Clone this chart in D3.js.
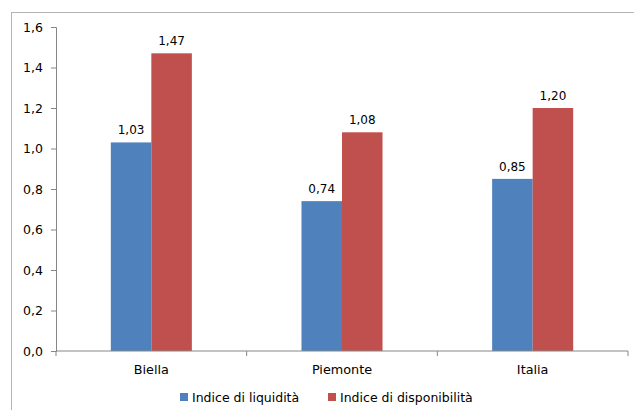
<!DOCTYPE html>
<html>
<head>
<meta charset="utf-8">
<script src="https://cdn.jsdelivr.net/npm/d3@7"></script>
<style>
  body { margin: 0; background: #fff; }
  text { font-family: "DejaVu Sans", Verdana, sans-serif; fill: #000; }
</style>
</head>
<body>
<svg class="chart"></svg>
<script>
var categories = ["Biella", "Piemonte", "Italia"];
var seriesNames = ["Indice di liquidità", "Indice di disponibilità"];
var liquidita = [1.03, 0.74, 0.85];
var disponibilita = [1.47, 1.08, 1.20];
var yTicks = [0, 0.2, 0.4, 0.6, 0.8, 1.0, 1.2, 1.4, 1.6];
var colors = ["#4F81BD", "#C0504D"];

var width = 634, height = 410;
var margin = {top: 27, left: 56, right: 6, bottom: 59};

var svg = d3.select(".chart").attr("width", width).attr("height", height);

// outer frame
svg.append("rect")
    .attr("x", 11.5).attr("y", 12.5)
    .attr("width", width + 10).attr("height", height + 10)
    .attr("fill", "none").attr("stroke", "#b3b3b3");

var x0 = d3.scaleBand().domain(categories).range([margin.left, width - margin.right]);
var x1 = d3.scaleBand().domain(seriesNames).range([0, x0.bandwidth() * 0.425]);
var y = d3.scaleLinear().domain([0, 1.6]).range([height - margin.bottom, margin.top]);

var fmt = function(v) { return d3.format(".2f")(v).replace(".", ","); };

var rows = categories.map(function(c, i) {
    return {cat: c, values: [liquidita[i], disponibilita[i]]};
});

var groups = svg.selectAll(".grp").data(rows).enter().append("g")
    .attr("class", "grp")
    .attr("transform", function(d) {
        return "translate(" + (x0(d.cat) + (x0.bandwidth() - x1.range()[1]) / 2) + ",0)";
    });

groups.selectAll("rect").data(function(d) {
        return d.values.map(function(v, j) { return {name: seriesNames[j], v: v, j: j}; });
    }).enter().append("rect")
    .attr("x", function(d) { return x1(d.name); })
    .attr("width", x1.bandwidth())
    .attr("y", function(d) { return y(d.v); })
    .attr("height", function(d) { return y(0) - y(d.v); })
    .attr("fill", function(d) { return colors[d.j]; });

groups.selectAll(".val").data(function(d) {
        return d.values.map(function(v, j) { return {name: seriesNames[j], v: v}; });
    }).enter().append("text")
    .attr("class", "val")
    .attr("x", function(d) { return x1(d.name) + x1.bandwidth() / 2; })
    .attr("y", function(d) { return y(d.v) - 8; })
    .attr("text-anchor", "middle")
    .style("font-size", "12px")
    .text(function(d) { return fmt(d.v); });

// y axis
var yAxis = svg.append("g")
    .attr("transform", "translate(" + margin.left + ",0)")
    .call(d3.axisLeft(y).tickValues(yTicks).tickSize(5).tickPadding(8)
        .tickFormat(function(d) { return d3.format(".1f")(d).replace(".", ","); }));
yAxis.selectAll("text").style("font-size", "12.5px").style("fill", "#000");

// x axis
var xAxis = svg.append("g")
    .attr("transform", "translate(0," + y(0) + ")");
xAxis.append("line")
    .attr("x1", margin.left).attr("x2", width - margin.right)
    .attr("stroke", "#868686");
var xTicks = categories.map(function(c) { return x0(c); }).concat([width - margin.right]);
xAxis.selectAll(".xt").data(xTicks).enter().append("line")
    .attr("x1", function(d) { return d; }).attr("x2", function(d) { return d; })
    .attr("y1", 0).attr("y2", 5)
    .attr("stroke", "#868686");
xAxis.selectAll(".xl").data(categories).enter().append("text")
    .attr("x", function(d) { return x0(d) + x0.bandwidth() / 2; })
    .attr("y", 23)
    .attr("text-anchor", "middle")
    .style("font-size", "12.8px")
    .text(function(d) { return d; });

yAxis.select(".domain").attr("stroke", "#868686");
yAxis.selectAll(".tick line").attr("stroke", "#868686");

// legend
var legendX = [180, 328];
var legend = svg.selectAll(".leg").data(seriesNames).enter().append("g")
    .attr("class", "leg")
    .attr("transform", function(d, i) { return "translate(" + legendX[i] + ",393)"; });
legend.append("rect")
    .attr("width", 8).attr("height", 8)
    .attr("fill", function(d, i) { return colors[i]; });
legend.append("text")
    .attr("x", 12).attr("y", 8.5)
    .style("font-size", "12.5px")
    .text(function(d) { return d; });
</script>
</body>
</html>
